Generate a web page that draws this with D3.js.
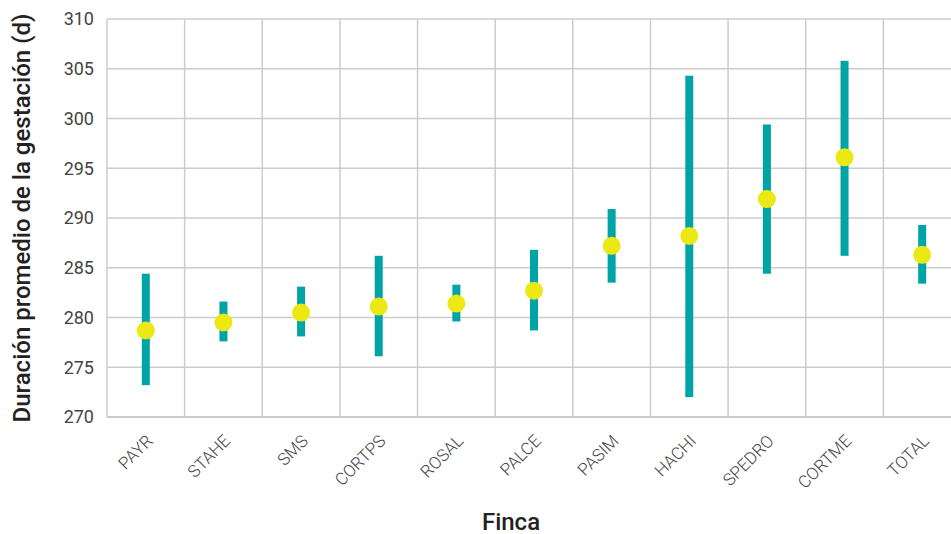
<!DOCTYPE html>
<html>
<head>
<meta charset="utf-8">
<script src="https://cdn.jsdelivr.net/npm/d3@7"></script>
<style>
    body { margin: 0; background: #fff; }
    svg { display: block; font-family: Roboto, "Noto Sans", sans-serif; }
    .tick-label { fill: #444; font-family: Roboto, sans-serif; }
    .axis-label { fill: #222; font-weight: 500; font-size: 24px; }
</style>
</head>
<body>
<svg id="chart"></svg>
<script>
// Data
const fincas = ["PAYR", "STAHE", "SMS", "CORTPS", "ROSAL", "PALCE", "PASIM", "HACHI", "SPEDRO", "CORTME", "TOTAL"];
const means = [278.7, 279.5, 280.5, 281.1, 281.4, 282.7, 287.2, 288.2, 291.9, 296.1, 286.3];
const lows  = [273.2, 277.6, 278.1, 276.1, 279.6, 278.7, 283.5, 272.0, 284.4, 286.2, 283.4];
const highs = [284.4, 281.6, 283.1, 286.2, 283.3, 286.8, 290.9, 304.3, 299.4, 305.8, 289.3];
const yTicks = [270, 275, 280, 285, 290, 295, 300, 305, 310];

const width = 951;
const height = 534;
const margin = { top: 19, right: -10, bottom: 117, left: 107 };
const innerWidth = width - margin.left - margin.right;
const innerHeight = height - margin.top - margin.bottom;

const teal = "#00a3a6";
const yellow = "#ebe814";
const gridColor = "#cccccc";

const data = fincas.map((f, i) => ({ finca: f, mean: means[i], low: lows[i], high: highs[i] }));

const svg = d3.select("#chart")
    .attr("width", width)
    .attr("height", height);

const innerChart = svg.append("g")
    .attr("transform", `translate(${margin.left},${margin.top})`);

const xScale = d3.scaleBand()
    .domain(fincas)
    .range([0, innerWidth])
    .padding(0);

const yScale = d3.scaleLinear()
    .domain([270, 310])
    .range([innerHeight, 0]);

// Horizontal grid
innerChart.append("g")
    .selectAll("line")
    .data(yTicks)
    .join("line")
    .attr("x1", 0)
    .attr("x2", innerWidth)
    .attr("y1", d => yScale(d))
    .attr("y2", d => yScale(d))
    .attr("stroke", gridColor)
    .attr("stroke-width", d => d === 270 ? 2 : 1.5);

// Vertical grid at band edges
innerChart.append("g")
    .selectAll("line")
    .data(fincas)
    .join("line")
    .attr("x1", d => xScale(d))
    .attr("x2", d => xScale(d))
    .attr("y1", 0)
    .attr("y2", innerHeight)
    .attr("stroke", gridColor)
    .attr("stroke-width", 1.5);

// Y axis labels
const leftAxis = d3.axisLeft(yScale)
    .tickValues(yTicks)
    .tickSize(0)
    .tickPadding(13);
const gy = innerChart.append("g").call(leftAxis);
gy.attr("font-family", null).attr("font-size", null);
gy.select(".domain").remove();
gy.selectAll("text")
    .attr("class", "tick-label")
    .style("font-size", "18px");

// X axis labels, rotated
const bottomAxis = d3.axisBottom(xScale)
    .tickSize(0)
    .tickPadding(0);
const gx = innerChart.append("g")
    .attr("transform", `translate(0, ${innerHeight})`)
    .call(bottomAxis);
gx.attr("font-family", null).attr("font-size", null);
gx.select(".domain").remove();
gx.selectAll("text")
    .attr("class", "tick-label")
    .style("font-size", "17px")
    .style("font-weight", 300)
    .attr("text-anchor", "end")
    .attr("dy", 0)
    .attr("transform", "translate(8, 25) rotate(-45)");

// Error bars
innerChart.selectAll(".bar")
    .data(data)
    .join("rect")
    .attr("class", "bar")
    .attr("x", d => xScale(d.finca) + xScale.bandwidth() / 2 - 4)
    .attr("width", 8)
    .attr("y", d => yScale(d.high))
    .attr("height", d => yScale(d.low) - yScale(d.high))
    .attr("fill", teal);

// Means
innerChart.selectAll(".dot")
    .data(data)
    .join("circle")
    .attr("class", "dot")
    .attr("cx", d => xScale(d.finca) + xScale.bandwidth() / 2)
    .attr("cy", d => yScale(d.mean))
    .attr("r", 9)
    .attr("fill", yellow);

// Axis titles
svg.append("text")
    .attr("class", "axis-label")
    .attr("text-anchor", "middle")
    .attr("transform", `translate(30, ${margin.top + innerHeight / 2}) rotate(-90)`)
    .text("Duración promedio de la gestación (d)");

svg.append("text")
    .attr("class", "axis-label")
    .attr("text-anchor", "middle")
    .attr("x", 511)
    .attr("y", 530)
    .text("Finca");
</script>
</body>
</html>
